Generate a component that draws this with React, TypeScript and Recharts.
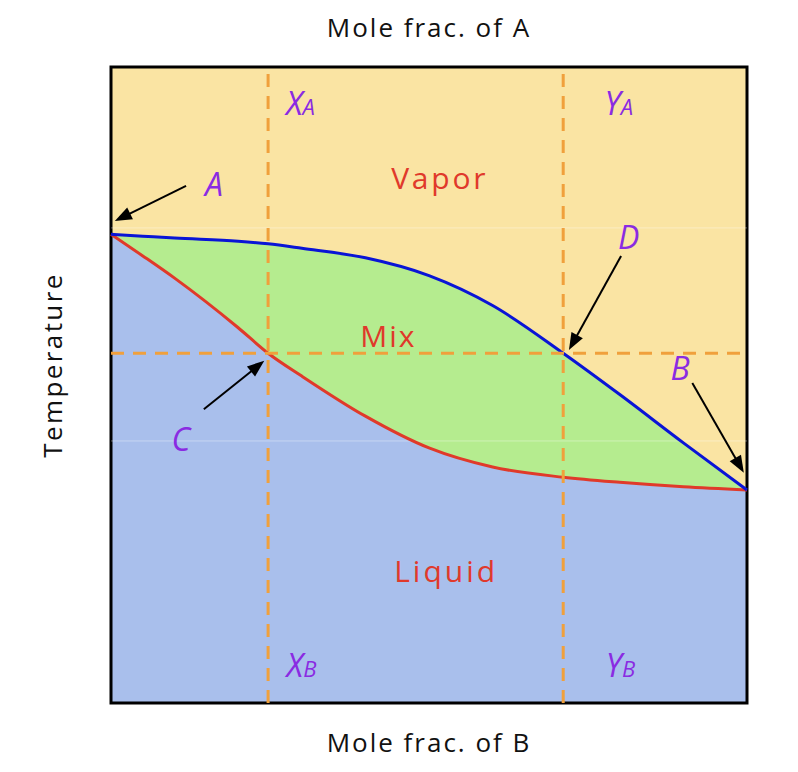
import React from 'react';
import {
  ComposedChart,
  Area,
  Line,
  XAxis,
  YAxis,
  CartesianGrid,
  ReferenceLine,
  ReferenceArea,
  ReferenceDot,
} from 'recharts';

// Mole fraction of B (x) and temperature (normalised 0..1, top = 1)
const moleFracB = [0, 0.05, 0.1, 0.2, 0.247, 0.3, 0.4, 0.5, 0.6, 0.711, 0.8, 0.9, 1.0];
const vaporCurve = [0.737, 0.734, 0.731, 0.726, 0.722, 0.715, 0.7, 0.672, 0.625, 0.55, 0.485, 0.409, 0.335];
const liquidCurve = [0.737, 0.703, 0.668, 0.59, 0.55, 0.514, 0.451, 0.401, 0.371, 0.355, 0.347, 0.34, 0.335];

// tie line
const xA = 0.247;
const yA = 0.711;
const tieTemp = 0.55;

const regionNames = ['Vapor', 'Mix', 'Liquid'];
const regionX = [0.517, 0.436, 0.527];
const regionT = [0.808, 0.56, 0.19];

const pointNames = ['A', 'D', 'B', 'C'];
const pointX = [0.162, 0.814, 0.895, 0.11];
const pointT = [0.797, 0.714, 0.508, 0.396];

const compMain = ['X', 'Y', 'X', 'Y'];
const compSub = ['A', 'A', 'B', 'B'];
const compX = [0.275, 0.776, 0.276, 0.778];
const compT = [0.925, 0.925, 0.041, 0.041];

const arrowFromX = [0.118, 0.802, 0.914, 0.146];
const arrowFromT = [0.813, 0.703, 0.503, 0.462];
const arrowToX = [0.006, 0.72, 0.995, 0.241];
const arrowToT = [0.758, 0.555, 0.362, 0.538];

const faintLines = [0.747, 0.412];

const data = moleFracB.map((x, i) => ({ x, vapor: vaporCurve[i], liquid: liquidCurve[i] }));

const FONT = '"Open Sans", sans-serif';
const YELLOW = '#FAE4A3';
const BLUEBG = '#A9BFEC';
const GREEN = '#B5EC8F';
const BLUE = '#0A14D6';
const RED = '#E03A2A';
const ORANGE = '#F0A03C';
const PURPLE = '#8A2BE2';
const REDTXT = '#E0392B';

const ArrowShape = (p: any) => {
  const { x1, y1, x2, y2 } = p;
  const dx = x2 - x1;
  const dy = y2 - y1;
  const len = Math.hypot(dx, dy) || 1;
  const ux = dx / len;
  const uy = dy / len;
  const hl = 17;
  const hw = 6.5;
  const bx = x2 - ux * hl;
  const by = y2 - uy * hl;
  const pts = `${x2},${y2} ${bx - uy * hw},${by + ux * hw} ${bx + uy * hw},${by - ux * hw}`;
  return (
    <g>
      <line x1={x1} y1={y1} x2={bx + ux * 2} y2={by + uy * 2} stroke="#000" strokeWidth={2} />
      <polygon points={pts} fill="#000" />
    </g>
  );
};

const regionSpacing = [2.8, 2, 3];

export default function App() {
  return (
    <div style={{ position: 'absolute', left: 0, top: 0, width: 798, height: 772, background: '#fff' }}>
      <ComposedChart
        width={798}
        height={772}
        data={data}
        margin={{ top: 0, right: 51, bottom: 0, left: 0 }}
      >
        <CartesianGrid horizontal={false} vertical={false} fill={YELLOW} stroke="none" />
        <XAxis
          dataKey="x"
          type="number"
          domain={[0, 1]}
          height={69}
          tick={false}
          tickLine={false}
          axisLine={false}
          label={{
            content: (props: any) => {
              const vb = props.viewBox;
              return (
                <text x={vb.x + vb.width / 2} y={vb.y + 49} textAnchor="middle" fontFamily={FONT} fontSize={26} fontWeight={500} letterSpacing={2} fill="#111">
                  Mole frac. of B
                </text>
              );
            },
          }}
        />
        <XAxis
          xAxisId="top"
          orientation="top"
          type="number"
          domain={[0, 1]}
          height={67}
          tick={false}
          tickLine={false}
          axisLine={false}
          label={{
            content: (props: any) => {
              const vb = props.viewBox;
              return (
                <text x={vb.x + vb.width / 2} y={vb.y + 37} textAnchor="middle" fontFamily={FONT} fontSize={26} fontWeight={500} letterSpacing={2} fill="#111">
                  Mole frac. of A
                </text>
              );
            },
          }}
        />
        <YAxis
          type="number"
          domain={[0, 1]}
          width={111}
          tick={false}
          tickLine={false}
          axisLine={false}
          label={{
            content: (props: any) => {
              const vb = props.viewBox;
              const cx = 62;
              const cy = vb.y + vb.height / 2 - 20;
              return (
                <text x={cx} y={cy} transform={`rotate(-90, ${cx}, ${cy})`} textAnchor="middle" fontFamily={FONT} fontSize={26} fontWeight={500} letterSpacing={2.4} fill="#111">
                  Temperature
                </text>
              );
            },
          }}
        />
        <Area dataKey="vapor" type="monotone" fill={GREEN} fillOpacity={1} stroke="none" isAnimationActive={false} baseValue={0} />
        <Area dataKey="liquid" type="monotone" fill={BLUEBG} fillOpacity={1} stroke="none" isAnimationActive={false} baseValue={0} />
        {faintLines.map((t, i) => (
          <ReferenceLine key={`f${i}`} y={t} stroke="#ffffff" strokeOpacity={0.35} strokeWidth={1} />
        ))}
        <Line dataKey="liquid" type="monotone" stroke={RED} strokeWidth={3} dot={false} isAnimationActive={false} />
        <Line dataKey="vapor" type="monotone" stroke={BLUE} strokeWidth={3} dot={false} isAnimationActive={false} />
        <ReferenceLine x={xA} stroke={ORANGE} strokeWidth={3} strokeDasharray="13 9" />
        <ReferenceLine x={yA} stroke={ORANGE} strokeWidth={3} strokeDasharray="13 9" />
        <ReferenceLine y={tieTemp} stroke={ORANGE} strokeWidth={3} strokeDasharray="13 9" />
        {arrowFromX.map((fx, i) => (
          <ReferenceLine
            key={`a${i}`}
            segment={[
              { x: fx, y: arrowFromT[i] },
              { x: arrowToX[i], y: arrowToT[i] },
            ]}
            shape={ArrowShape}
            ifOverflow="visible"
          />
        ))}
        {regionNames.map((name, i) => (
          <ReferenceDot
            key={`r${i}`}
            x={regionX[i]}
            y={regionT[i]}
            r={0}
            shape={(p: any) => (
              <text x={p.cx} y={p.cy} textAnchor="middle" fontFamily={FONT} fontSize={30} fontWeight={500} letterSpacing={regionSpacing[i]} fill={REDTXT}>
                {name}
              </text>
            )}
          />
        ))}
        {pointNames.map((name, i) => (
          <ReferenceDot
            key={`p${i}`}
            x={pointX[i]}
            y={pointT[i]}
            r={0}
            shape={(p: any) => (
              <text x={p.cx} y={p.cy} textAnchor="middle" fontFamily={FONT} fontStyle="italic" fontWeight={500} fontSize={32} fill={PURPLE}>
                {name}
              </text>
            )}
          />
        ))}
        {compMain.map((name, i) => (
          <ReferenceDot
            key={`c${i}`}
            x={compX[i]}
            y={compT[i]}
            r={0}
            shape={(p: any) => (
              <text x={p.cx} y={p.cy} textAnchor="start" fontFamily={FONT} fontStyle="italic" fontWeight={500} fontSize={32} fill={PURPLE}>
                {name}
                <tspan fontSize={22}>{compSub[i]}</tspan>
              </text>
            )}
          />
        ))}
        <ReferenceArea x1={0} x2={1} y1={0} y2={1} fill="none" fillOpacity={0} stroke="#000" strokeWidth={3} strokeOpacity={1} />
      </ComposedChart>
    </div>
  );
}
